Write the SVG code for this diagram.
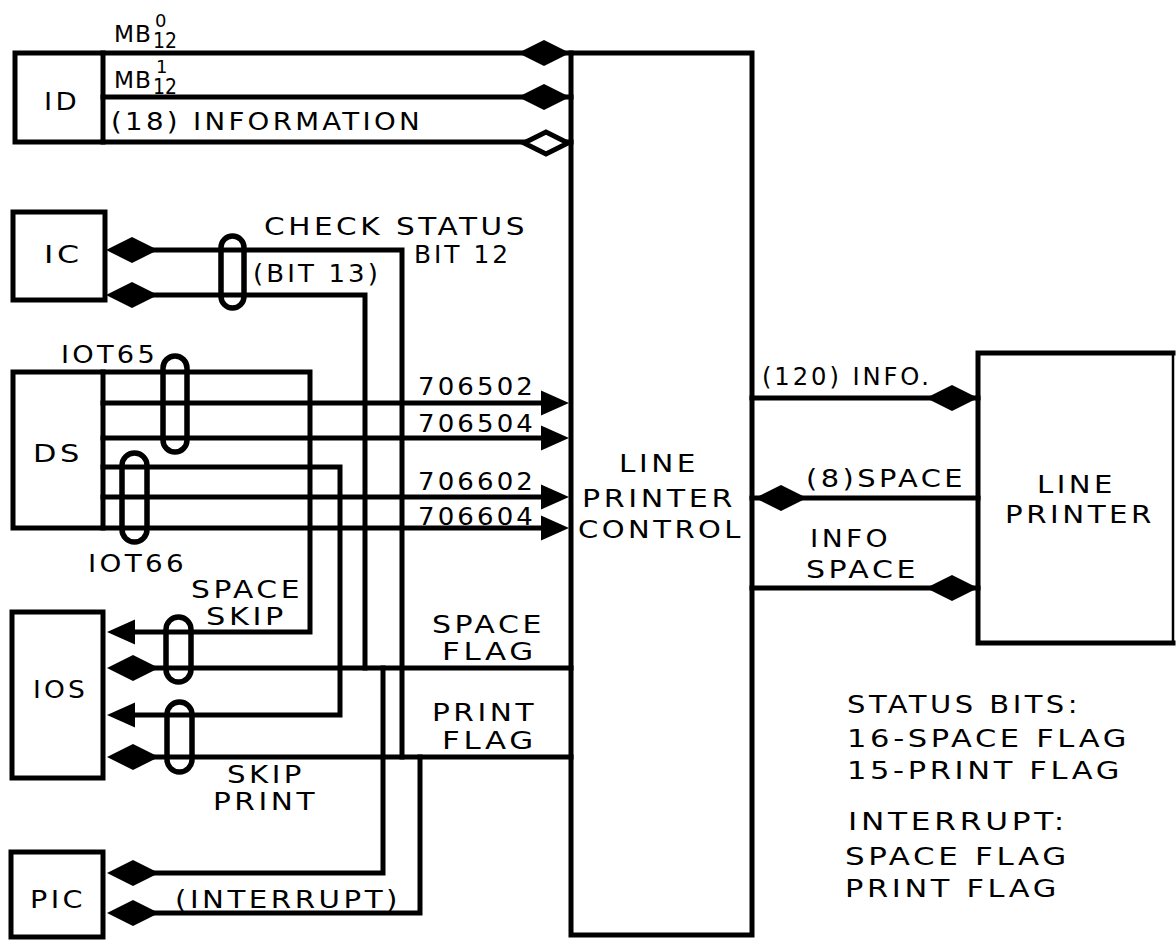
<svg xmlns="http://www.w3.org/2000/svg" xmlns:xlink="http://www.w3.org/1999/xlink" width="1176" height="940" viewBox="0 0 1176 940">
<style>
.t{font-family:"DejaVu Sans","Liberation Sans",Arial,sans-serif;font-size:25px;fill:#000;letter-spacing:3px}
.s{font-size:23px;letter-spacing:1px}
.sub{font-size:21px;letter-spacing:0}
.sup{font-size:18px;letter-spacing:0}
.ln{fill:none;stroke:#000;stroke-width:5;stroke-linejoin:miter;stroke-linecap:square}
.loop{fill:none;stroke:#000;stroke-width:5.5}
.f{fill:#000}
</style>
<defs>
<path id="dia" d="M-26,0 L0,-13 L26,0 L0,13 Z"/>
<path id="arr" d="M0,0 L-28,-12.5 L-28,12.5 Z"/>
</defs>
<rect width="1176" height="940" fill="#fff"/>

<g id="connectors">
<path class="ln" d="M103,53 H571"/>
<path class="ln" d="M103,97 H571"/>
<path class="ln" d="M103,142 H571"/>
<path class="ln" d="M132,250 H402 V757"/>
<path class="ln" d="M132,295 H365 V668"/>
<path class="ln" d="M103,372 H310 V632 H120"/>
<path class="ln" d="M103,403 H545"/>
<path class="ln" d="M103,438 H545"/>
<path class="ln" d="M103,467 H340 V715 H120"/>
<path class="ln" d="M103,497 H545"/>
<path class="ln" d="M103,528 H545"/>
<path class="ln" d="M132,668 H571"/>
<path class="ln" d="M132,757 H571"/>
<path class="ln" d="M383,668 V873 H132"/>
<path class="ln" d="M420,757 V913 H132"/>
<path class="ln" d="M752,398 H978"/>
<path class="ln" d="M752,498 H978"/>
<path class="ln" d="M752,588 H978"/>
<rect class="loop" x="221" y="236" width="23" height="72" rx="11.5"/>
<rect class="loop" x="163" y="356" width="24" height="96" rx="12"/>
<rect class="loop" x="122" y="453" width="25" height="89" rx="12.5"/>
<rect class="loop" x="166" y="617" width="25" height="65" rx="12.5"/>
<rect class="loop" x="167" y="702" width="25" height="70" rx="12.5"/>
<use href="#dia" class="f" x="544" y="53"/>
<use href="#dia" class="f" x="544" y="97"/>
<path d="M524,143 L546,132 L568,143 L546,154 Z" fill="#fff" stroke="#000" stroke-width="5"/>
<use href="#dia" class="f" x="132" y="250"/>
<use href="#dia" class="f" x="132" y="295"/>
<use href="#arr" class="f" x="569" y="403"/>
<use href="#arr" class="f" x="569" y="438"/>
<use href="#arr" class="f" x="569" y="497"/>
<use href="#arr" class="f" x="569" y="528"/>
<use href="#arr" class="f" transform="translate(107,632) scale(-1,1)"/>
<use href="#arr" class="f" transform="translate(107,715) scale(-1,1)"/>
<use href="#dia" class="f" x="133" y="668"/>
<use href="#dia" class="f" x="133" y="757"/>
<use href="#dia" class="f" x="133" y="873"/>
<use href="#dia" class="f" x="133" y="913"/>
<use href="#dia" class="f" x="952" y="398"/>
<use href="#dia" class="f" x="781" y="498"/>
<use href="#dia" class="f" x="952" y="588"/>
<text class="t s" x="114" y="42" textLength="38" lengthAdjust="spacingAndGlyphs">MB</text>
<text class="t sup" x="155" y="27">0</text>
<text class="t sub" x="153" y="48" textLength="24" lengthAdjust="spacingAndGlyphs">12</text>
<text class="t s" x="114" y="88" textLength="38" lengthAdjust="spacingAndGlyphs">MB</text>
<text class="t sup" x="156" y="73">1</text>
<text class="t sub" x="153" y="94" textLength="24" lengthAdjust="spacingAndGlyphs">12</text>
<text class="t" x="111" y="130" textLength="312" lengthAdjust="spacingAndGlyphs">(18) INFORMATION</text>
<text class="t" x="264" y="235" textLength="264" lengthAdjust="spacingAndGlyphs">CHECK STATUS</text>
<text class="t" x="414" y="263" textLength="97" lengthAdjust="spacingAndGlyphs">BIT 12</text>
<text class="t" x="253" y="282" textLength="128" lengthAdjust="spacingAndGlyphs">(BIT 13)</text>
<text class="t" x="61" y="363" textLength="97" lengthAdjust="spacingAndGlyphs">IOT65</text>
<text class="t" x="88" y="572" textLength="99" lengthAdjust="spacingAndGlyphs">IOT66</text>
<text class="t" x="418" y="395" textLength="118" lengthAdjust="spacingAndGlyphs">706502</text>
<text class="t" x="418" y="432" textLength="118" lengthAdjust="spacingAndGlyphs">706504</text>
<text class="t" x="418" y="490" textLength="118" lengthAdjust="spacingAndGlyphs">706602</text>
<text class="t" x="418" y="525" textLength="118" lengthAdjust="spacingAndGlyphs">706604</text>
<text class="t" x="191" y="598" textLength="112" lengthAdjust="spacingAndGlyphs">SPACE</text>
<text class="t" x="206" y="625" textLength="81" lengthAdjust="spacingAndGlyphs">SKIP</text>
<text class="t" x="432" y="633" textLength="113" lengthAdjust="spacingAndGlyphs">SPACE</text>
<text class="t" x="442" y="660" textLength="95" lengthAdjust="spacingAndGlyphs">FLAG</text>
<text class="t" x="432" y="721" textLength="105" lengthAdjust="spacingAndGlyphs">PRINT</text>
<text class="t" x="442" y="749" textLength="95" lengthAdjust="spacingAndGlyphs">FLAG</text>
<text class="t" x="227" y="783" textLength="78" lengthAdjust="spacingAndGlyphs">SKIP</text>
<text class="t" x="213" y="810" textLength="105" lengthAdjust="spacingAndGlyphs">PRINT</text>
<text class="t" x="175" y="908" textLength="226" lengthAdjust="spacingAndGlyphs">(INTERRUPT)</text>
<text class="t" x="762" y="385" textLength="170" lengthAdjust="spacingAndGlyphs">(120) INFO.</text>
<text class="t" x="806" y="487" textLength="160" lengthAdjust="spacingAndGlyphs">(8)SPACE</text>
<text class="t" x="810" y="547" textLength="81" lengthAdjust="spacingAndGlyphs">INFO</text>
<text class="t" x="806" y="578" textLength="113" lengthAdjust="spacingAndGlyphs">SPACE</text>
</g>

<g id="ID">
<path class="ln" d="M103,53 H15 V142 H103 Z"/>
<text class="t" x="44" y="110" textLength="36" lengthAdjust="spacingAndGlyphs">ID</text>
</g>
<g id="IC">
<rect class="ln" x="13" y="212" width="92" height="88"/>
<text class="t" x="44" y="263" textLength="39" lengthAdjust="spacingAndGlyphs">IC</text>
</g>
<g id="DS">
<rect class="ln" x="13" y="372" width="90" height="156"/>
<text class="t" x="33" y="462" textLength="50" lengthAdjust="spacingAndGlyphs">DS</text>
</g>
<g id="IOS">
<rect class="ln" x="12" y="612" width="91" height="166"/>
<text class="t" x="33" y="698" textLength="55" lengthAdjust="spacingAndGlyphs">IOS</text>
</g>
<g id="PIC">
<rect class="ln" x="11" y="852" width="92" height="85"/>
<text class="t" x="30" y="908" textLength="56" lengthAdjust="spacingAndGlyphs">PIC</text>
</g>
<g id="LPC">
<rect class="ln" x="571" y="53" width="181" height="882"/>
<text class="t" x="619" y="472" textLength="80" lengthAdjust="spacingAndGlyphs">LINE</text>
<text class="t" x="582" y="507" textLength="154" lengthAdjust="spacingAndGlyphs">PRINTER</text>
<text class="t" x="578" y="538" textLength="166" lengthAdjust="spacingAndGlyphs">CONTROL</text>
</g>
<g id="LP">
<path class="ln" d="M1173,353 H978 V643 H1173"/>
<path fill="none" stroke="#000" stroke-width="2.5" d="M1173,353 V643"/>
<text class="t" x="1037" y="493" textLength="79" lengthAdjust="spacingAndGlyphs">LINE</text>
<text class="t" x="1005" y="523" textLength="150" lengthAdjust="spacingAndGlyphs">PRINTER</text>
</g>
<g id="notes">
<text class="t" x="847" y="713" textLength="234" lengthAdjust="spacingAndGlyphs">STATUS BITS:</text>
<text class="t" x="847" y="747" textLength="283" lengthAdjust="spacingAndGlyphs">16-SPACE FLAG</text>
<text class="t" x="847" y="779" textLength="276" lengthAdjust="spacingAndGlyphs">15-PRINT FLAG</text>
<text class="t" x="848" y="830" textLength="220" lengthAdjust="spacingAndGlyphs">INTERRUPT:</text>
<text class="t" x="845" y="865" textLength="225" lengthAdjust="spacingAndGlyphs">SPACE FLAG</text>
<text class="t" x="845" y="897" textLength="215" lengthAdjust="spacingAndGlyphs">PRINT FLAG</text>
</g>
</svg>
